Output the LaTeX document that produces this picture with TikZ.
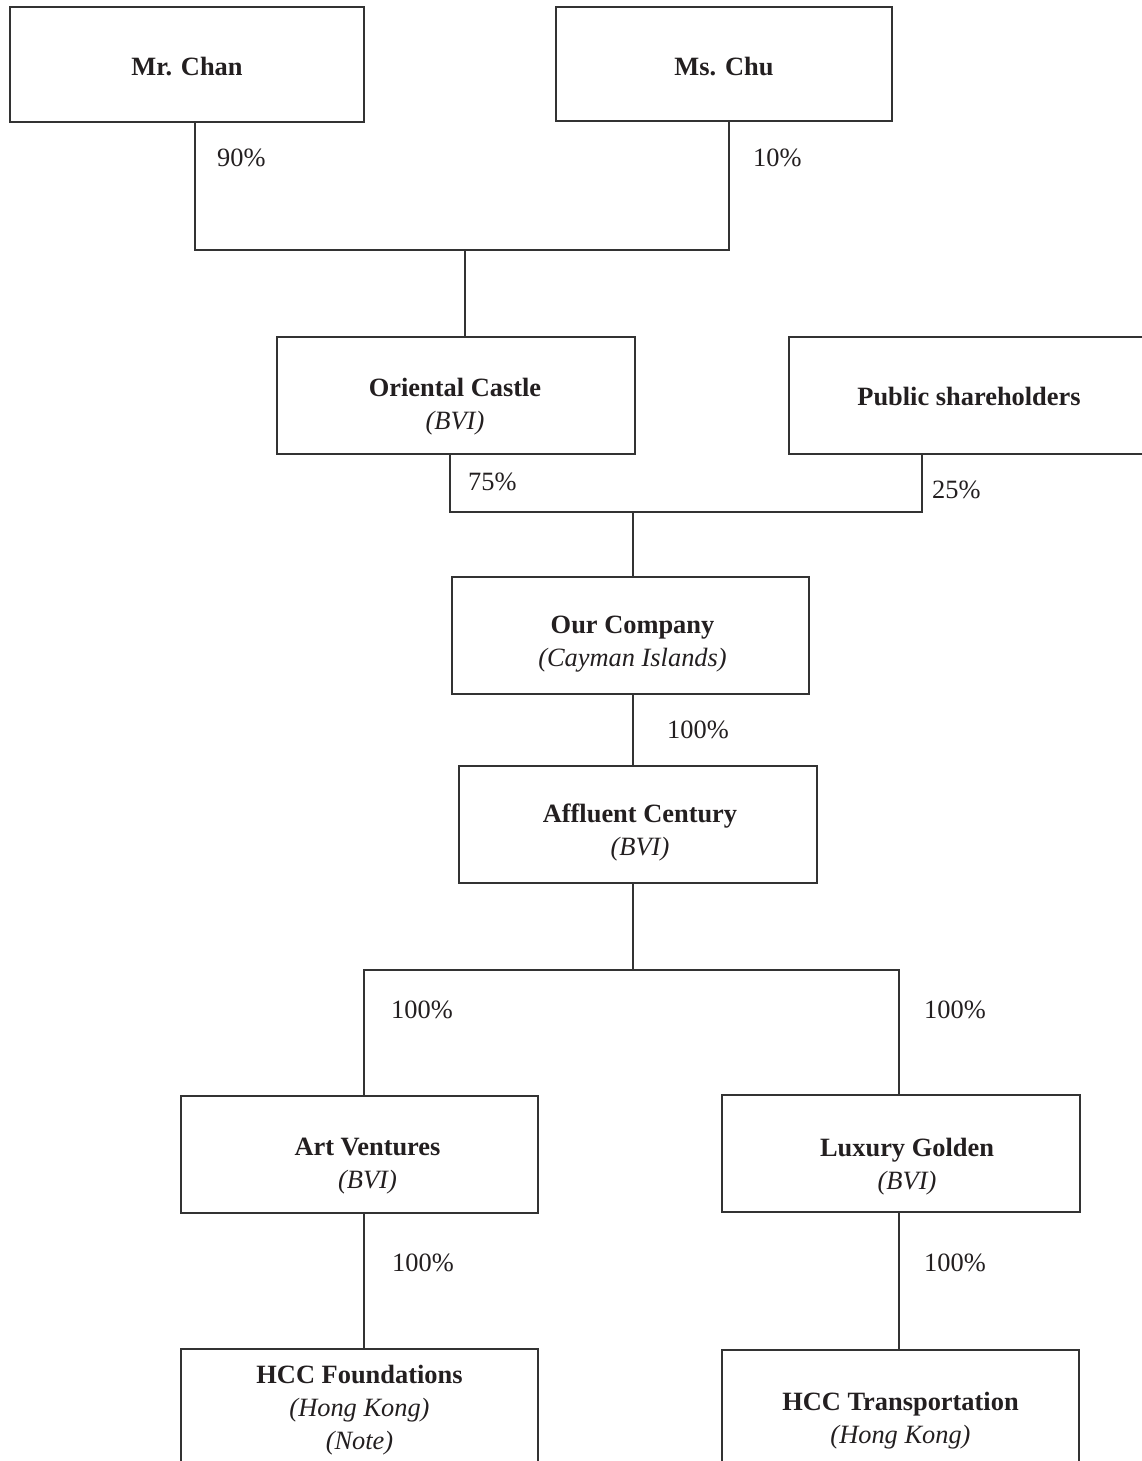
\documentclass[tikz,border=0pt]{standalone}
\usepackage{fontspec}
\setmainfont{Liberation Serif}
\definecolor{txt}{HTML}{231F20}
\definecolor{ln}{HTML}{333333}
\begin{document}
\begin{tikzpicture}[x=1pt,y=-1pt,
  every node/.style={text=txt,font=\fontsize{26.4}{33}\selectfont},
  ebox/.style={draw=ln,line width=1.2pt,inner sep=0pt,minimum height=117},
  lbl/.style={align=center,inner sep=0pt},
  pct/.style={anchor=west,inner sep=0pt},
  conn/.style={draw=ln,line width=1.2pt}]
\useasboundingbox[fill=white] (0,0) rectangle (1142,1461);

% boxes
\node[ebox,minimum width=354,minimum height=115] (chan) at (187,64.5) {};
\node[ebox,minimum width=336,minimum height=114] (chu) at (724,64) {};
\node[ebox,minimum width=358] (oc) at (456,395.5) {};
\node[ebox,minimum width=360] (pub) at (969,395.5) {};
\node[ebox,minimum width=357] (ourco) at (630.5,635.5) {};
\node[ebox,minimum width=358] (aff) at (638,824.5) {};
\node[ebox,minimum width=357] (art) at (359.5,1154.5) {};
\node[ebox,minimum width=358] (lux) at (901,1153.5) {};
\node[ebox,minimum width=357] (hccf) at (359.5,1407.5) {};
\node[ebox,minimum width=357] (hcct) at (900.5,1408.5) {};

% box texts
\node[lbl] (chant) at ([yshift=-2pt]chan.center) {\textbf{Mr. Chan}};
\node[lbl] (chut) at ([yshift=-3pt]chu.center) {\textbf{Ms. Chu}};
\node[lbl] (oct) at ([xshift=-1pt,yshift=-11pt]oc.center) {\textbf{Oriental Castle}\\\textit{(BVI)}};
\node[lbl] (pubt) at ([yshift=-1pt]pub.center) {\textbf{Public shareholders}};
\node[lbl] (ourcot) at ([xshift=2pt,yshift=-9pt]ourco.center) {\textbf{Our Company}\\\textit{(Cayman Islands)}};
\node[lbl] (afft) at ([xshift=2pt,yshift=-8pt]aff.center) {\textbf{Affluent Century}\\\textit{(BVI)}};
\node[lbl] (artt) at ([xshift=8pt,yshift=-12pt]art.center) {\textbf{Art Ventures}\\\textit{(BVI)}};
\node[lbl] (luxt) at ([xshift=6pt,yshift=-13pt]lux.center) {\textbf{Luxury Golden}\\\textit{(BVI)}};
\node[lbl] (hccft) at ([yshift=-3pt]hccf.center) {\textbf{HCC Foundations}\\\textit{(Hong Kong)}\\\textit{(Note)}};
\node[lbl] (hcctt) at ([yshift=-12pt]hcct.center) {\textbf{HCC Transportation}\\\textit{(Hong Kong)}};

% junction coordinates
\coordinate (t1L) at (195,250);
\coordinate (t1R) at (729,250);
\coordinate (t1M) at (465,250);
\coordinate (t2L) at (450,512);
\coordinate (t2R) at (922,512);
\coordinate (t2M) at (633,512);
\coordinate (t3M) at (633,970);
\coordinate (t3L) at (364,970);
\coordinate (t3R) at (899,970);

% connectors
\draw[conn] (chan.south -| t1L) -- (t1L) -- (t1R) -- (chu.south -| t1R);
\draw[conn] (t1M) -- (oc.north -| t1M);
\draw[conn] (oc.south -| t2L) -- (t2L) -- (t2R) -- (pub.south -| t2R);
\draw[conn] (t2M) -- (ourco.north -| t2M);
\draw[conn] (ourco.south -| t2M) -- (aff.north -| t2M);
\draw[conn] (aff.south -| t3M) -- (t3M);
\draw[conn] (art.north -| t3L) -- (t3L) -- (t3R) -- (lux.north -| t3R);
\draw[conn] (art.south -| t3L) -- (hccf.north -| t3L);
\draw[conn] (lux.south -| t3R) -- (hcct.north -| t3R);

% percentages
\node[pct] (p90) at (217,158) {90\%};
\node[pct] (p10) at (753,158) {10\%};
\node[pct] (p75) at (468,482) {75\%};
\node[pct] (p25) at (932,490) {25\%};
\node[pct] (p100a) at (667,730) {100\%};
\node[pct] (p100b) at (391,1010) {100\%};
\node[pct] (p100c) at (924,1010) {100\%};
\node[pct] (p100d) at (392,1263) {100\%};
\node[pct] (p100e) at (924,1263) {100\%};
\end{tikzpicture}
\end{document}
